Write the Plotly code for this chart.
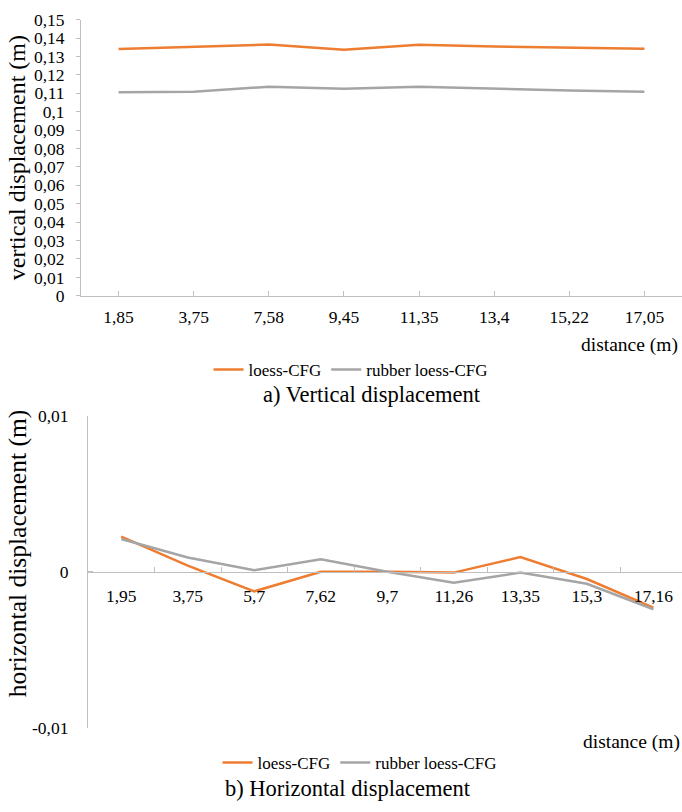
import plotly.graph_objects as go

# ---- data ----
cats_v = ["1,85", "3,75", "7,58", "9,45", "11,35", "13,4", "15,22", "17,05"]
loess_v = [0.1341, 0.1351, 0.1365, 0.1337, 0.1364, 0.1355, 0.1348, 0.1343]
rubber_v = [0.1106, 0.1109, 0.1136, 0.1125, 0.1136, 0.1124, 0.1115, 0.1109]

cats_h = ["1,95", "3,75", "5,7", "7,62", "9,7", "11,26", "13,35", "15,3", "17,16"]
loess_h = [0.00225, 0.0004, -0.00125, 0.0, 0.0, -0.00005, 0.00094, -0.00046, -0.0023]
rubber_h = [0.0021, 0.00092, 0.0001, 0.0008, 0.0, -0.0007, -0.00005, -0.00077, -0.0024]

yv_ticks = [i / 100 for i in range(16)]
yv_text = ["0", "0,01", "0,02", "0,03", "0,04", "0,05", "0,06", "0,07", "0,08",
           "0,09", "0,1", "0,11", "0,12", "0,13", "0,14", "0,15"]
yh_ticks = [-0.01, 0, 0.01]
yh_text = ["-0,01", "0", "0,01"]

ORANGE = "#ED7D31"
GRAY = "#A5A5A5"
AXIS = "#BFBFBF"
FONT = "Liberation Serif, Times New Roman, DejaVu Serif, serif"
W, H = 682, 812

fig = go.Figure()
fig.add_trace(go.Scatter(x=cats_v, y=loess_v, mode="lines", name="loess-CFG",
                         line=dict(color=ORANGE, width=2.5), xaxis="x", yaxis="y", legend="legend"))
fig.add_trace(go.Scatter(x=cats_v, y=rubber_v, mode="lines", name="rubber loess-CFG",
                         line=dict(color=GRAY, width=2.5), xaxis="x", yaxis="y", legend="legend"))
fig.add_trace(go.Scatter(x=cats_h, y=loess_h, mode="lines", name="loess-CFG",
                         line=dict(color=ORANGE, width=2.5), xaxis="x2", yaxis="y2", legend="legend2"))
fig.add_trace(go.Scatter(x=cats_h, y=rubber_h, mode="lines", name="rubber loess-CFG",
                         line=dict(color=GRAY, width=2.5), xaxis="x2", yaxis="y2", legend="legend2"))

def py(pix):
    return 1 - pix / H

tickfont = dict(family=FONT, size=17.5, color="black")

fig.update_layout(
    width=W, height=H,
    margin=dict(l=0, r=0, t=0, b=0),
    paper_bgcolor="white", plot_bgcolor="white",
    font=dict(family=FONT, size=17.5, color="black"),
    xaxis=dict(domain=[81 / W, 1], range=[-0.5, 7.5], type="category",
               showgrid=False, zeroline=False, showline=True, linecolor=AXIS, linewidth=1,
               ticks="inside", ticklen=5, tickcolor=AXIS, tickson="labels",
               tickfont=tickfont, ticklabelstandoff=5, anchor="y"),
    yaxis=dict(domain=[py(293), py(10)], range=[0, 0.15],
               tickvals=yv_ticks, ticktext=yv_text,
               showgrid=False, zeroline=False, showline=True, linecolor=AXIS, linewidth=1,
               ticks="outside", ticklen=4, tickcolor=AXIS, tickfont=tickfont,
               ticklabelstandoff=8, anchor="x"),
    xaxis2=dict(domain=[88 / W, 1], range=[-0.5, 8.43], type="category",
                showgrid=False, zeroline=False, showline=True, linecolor=AXIS, linewidth=1,
                ticks="inside", ticklen=5, tickcolor=AXIS, tickson="boundaries",
                tickfont=tickfont, ticklabelstandoff=8,
                anchor="free", position=py(576)),
    yaxis2=dict(domain=[py(736), py(416)], range=[-0.01, 0.01],
                tickvals=yh_ticks, ticktext=yh_text,
                showgrid=False, zeroline=False, showline=True, linecolor=AXIS, linewidth=1,
                ticks="inside", ticklen=5, tickcolor=AXIS, tickfont=tickfont,
                ticklabelstandoff=15, anchor="x2"),
    legend=dict(orientation="h", x=351 / W, xanchor="center", y=py(369), yanchor="middle",
                font=dict(family=FONT, size=17), bgcolor="rgba(0,0,0,0)",
                itemwidth=30, tracegroupgap=0),
    legend2=dict(orientation="h", x=360 / W, xanchor="center", y=py(772), yanchor="middle",
                 font=dict(family=FONT, size=17), bgcolor="rgba(0,0,0,0)",
                 itemwidth=30, tracegroupgap=0),
    annotations=[
        dict(text="vertical displacement (m)", x=17 / W, y=py(152), xref="paper", yref="paper",
             textangle=-90, showarrow=False, font=dict(family=FONT, size=24),
             xanchor="center", yanchor="middle"),
        dict(text="distance (m)", x=680 / W, y=py(343), xref="paper", yref="paper",
             showarrow=False, font=dict(family=FONT, size=19.5), xanchor="right", yanchor="middle"),
        dict(text="a) Vertical displacement", x=372 / W, y=py(394), xref="paper", yref="paper",
             showarrow=False, font=dict(family=FONT, size=22.5), xanchor="center", yanchor="middle"),
        dict(text="horizontal displacement (m)", x=17 / W, y=py(557), xref="paper", yref="paper",
             textangle=-90, showarrow=False, font=dict(family=FONT, size=25.5),
             xanchor="center", yanchor="middle"),
        dict(text="distance (m)", x=682 / W, y=py(750), xref="paper", yref="paper",
             showarrow=False, font=dict(family=FONT, size=19.5), xanchor="right", yanchor="middle"),
        dict(text="b) Horizontal displacement", x=348 / W, y=py(798), xref="paper", yref="paper",
             showarrow=False, font=dict(family=FONT, size=22.5), xanchor="center", yanchor="middle"),
    ],
)

fig.write_html("out.html")
